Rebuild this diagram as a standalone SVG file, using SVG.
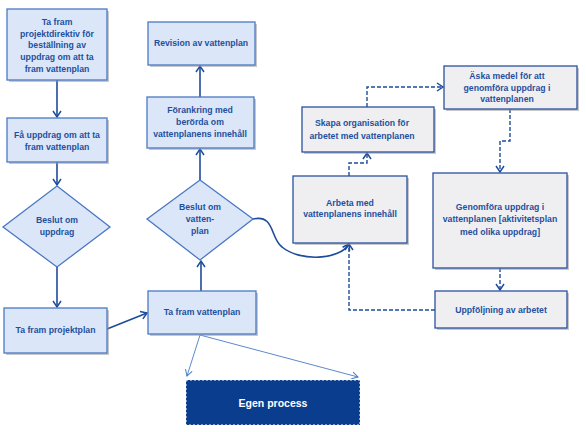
<svg xmlns="http://www.w3.org/2000/svg" width="586" height="432" viewBox="0 0 586 432">
<defs>
<style>
.b{fill:#dbe7f8;stroke:#4a78c4;stroke-width:1.3}
.g{fill:#efeff1;stroke:#2a519f;stroke-width:1.3}
.sh{fill:#9a9a9a;opacity:0.55}
.t{font-family:"Liberation Sans",Arial,sans-serif;font-weight:bold;font-size:8.7px;fill:#1f4f9e;text-anchor:middle}
.w{font-family:"Liberation Sans",Arial,sans-serif;font-weight:bold;font-size:10.5px;fill:#ffffff;text-anchor:middle}
.c{fill:none;stroke:#1d4c9c;stroke-width:1.6}
.d{fill:none;stroke:#1d4c9c;stroke-width:1.4;stroke-dasharray:4,2}
.n{fill:none;stroke:#4a7cc6;stroke-width:0.9}
</style>
<marker id="a" markerWidth="10" markerHeight="10" refX="8" refY="5" orient="auto" markerUnits="userSpaceOnUse">
<path d="M2,1 L8,5 L2,9" fill="none" stroke="#1d4c9c" stroke-width="1.5"/>
</marker>
<marker id="an" markerWidth="10" markerHeight="10" refX="8" refY="5" orient="auto" markerUnits="userSpaceOnUse">
<path d="M2,1.5 L8,5 L2,8.5" fill="none" stroke="#4a7cc6" stroke-width="1"/>
</marker>
</defs>
<rect width="586" height="432" fill="#ffffff"/>

<g id="connectors">
<line class="c" x1="57" y1="80" x2="57" y2="117" marker-end="url(#a)"/>
<line class="c" x1="57" y1="162" x2="57" y2="185" marker-end="url(#a)"/>
<line class="c" x1="57" y1="267" x2="57" y2="307" marker-end="url(#a)"/>
<line class="c" x1="107" y1="329" x2="147" y2="313" marker-end="url(#a)"/>
<line class="c" x1="201" y1="291" x2="201" y2="261" marker-end="url(#a)"/>
<line class="c" x1="200" y1="180" x2="200" y2="149" marker-end="url(#a)"/>
<line class="c" x1="200" y1="97" x2="200" y2="66" marker-end="url(#a)"/>
<path class="c" d="M253,219 C275,214 270,238 282,247 C300,262 340,260 349,244" marker-end="url(#a)"/>
<path class="d" d="M349,176 V163 H367 V153" marker-end="url(#a)"/>
<path class="d" d="M367,107 V87 H443" marker-end="url(#a)"/>
<path class="d" d="M510,109 V141 H500 V172" marker-end="url(#a)"/>
<path class="d" d="M500,268 V290" marker-end="url(#a)"/>
<path class="d" d="M435,310 H349 V244" marker-end="url(#a)"/>
<line class="n" x1="200" y1="335" x2="187" y2="376" marker-end="url(#an)"/>
<line class="n" x1="200" y1="335" x2="358" y2="377" marker-end="url(#an)"/>
</g>

<g id="n1">
<rect class="sh" x="9" y="11" width="100" height="71"/>
<rect class="b" x="7" y="9" width="100" height="71"/>
<text class="t" x="57" y="25">Ta fram</text>
<text class="t" x="57" y="36.5">projektdirektiv för</text>
<text class="t" x="57" y="48">beställning av</text>
<text class="t" x="57" y="60">uppdrag om att ta</text>
<text class="t" x="57" y="71.5">fram vattenplan</text>
</g>

<g id="n2">
<rect class="sh" x="9" y="120" width="100" height="44"/>
<rect class="b" x="7" y="118" width="100" height="44"/>
<text class="t" x="57" y="138">Få uppdrag om att ta</text>
<text class="t" x="57" y="149.5">fram vattenplan</text>
</g>

<g id="n3">
<polygon class="b" points="57,186 110,227 57,267 3,227"/>
<text class="t" x="57" y="223">Beslut om</text>
<text class="t" x="57" y="235">uppdrag</text>
</g>

<g id="n4">
<rect class="sh" x="6" y="310" width="103" height="45"/>
<rect class="b" x="4" y="308" width="103" height="45"/>
<text class="t" x="55.5" y="333">Ta fram projektplan</text>
</g>

<g id="n5">
<rect class="sh" x="150" y="293" width="108" height="43"/>
<rect class="b" x="148" y="291" width="108" height="43"/>
<text class="t" x="202" y="315">Ta fram vattenplan</text>
</g>

<g id="n6">
<polygon class="b" points="200,180 253,219 200,260 147,219"/>
<text class="t" x="200" y="210">Beslut om</text>
<text class="t" x="200" y="222">vatten-</text>
<text class="t" x="200" y="234">plan</text>
</g>

<g id="n7">
<rect class="sh" x="149" y="99" width="107" height="51"/>
<rect class="b" x="147" y="97" width="107" height="51"/>
<text class="t" x="200" y="113">Förankring med</text>
<text class="t" x="200" y="125">berörda om</text>
<text class="t" x="200" y="137">vattenplanens innehåll</text>
</g>

<g id="n8">
<rect class="sh" x="150" y="24" width="107" height="43"/>
<rect class="b" x="148" y="22" width="107" height="43"/>
<text class="t" x="201" y="46">Revision av vattenplan</text>
</g>

<g id="n9">
<rect class="sh" x="295" y="178" width="114" height="67"/>
<rect class="g" x="293" y="176" width="114" height="67"/>
<text class="t" x="350" y="206">Arbeta med</text>
<text class="t" x="350" y="217">vattenplanens innehåll</text>
</g>

<g id="n10">
<rect class="sh" x="304" y="109" width="132" height="45"/>
<rect class="g" x="302" y="107" width="132" height="45"/>
<text class="t" x="362" y="126">Skapa organisation för</text>
<text class="t" x="362" y="139">arbetet med vattenplanen</text>
</g>

<g id="n11">
<rect class="sh" x="446" y="68" width="133" height="43"/>
<rect class="g" x="444" y="66" width="133" height="43"/>
<text class="t" x="507" y="79">Äska medel för att</text>
<text class="t" x="507" y="91">genomföra uppdrag i</text>
<text class="t" x="507" y="102">vattenplanen</text>
</g>

<g id="n12">
<rect class="sh" x="435" y="175" width="134" height="95"/>
<rect class="g" x="433" y="173" width="134" height="95"/>
<text class="t" x="500" y="210">Genomföra uppdrag i</text>
<text class="t" x="500" y="222">vattenplanen [aktivitetsplan</text>
<text class="t" x="500" y="235">med olika uppdrag]</text>
</g>

<g id="n13">
<rect class="sh" x="437" y="293" width="132" height="37"/>
<rect class="g" x="435" y="291" width="132" height="37"/>
<text class="t" x="501" y="313">Uppföljning av arbetet</text>
</g>

<g id="n14">
<rect x="186" y="380" width="174" height="45" fill="#0b3d8f" stroke="#ffffff" stroke-width="1" stroke-dasharray="2,2"/>
<text class="w" x="273" y="407">Egen process</text>
</g>
</svg>
